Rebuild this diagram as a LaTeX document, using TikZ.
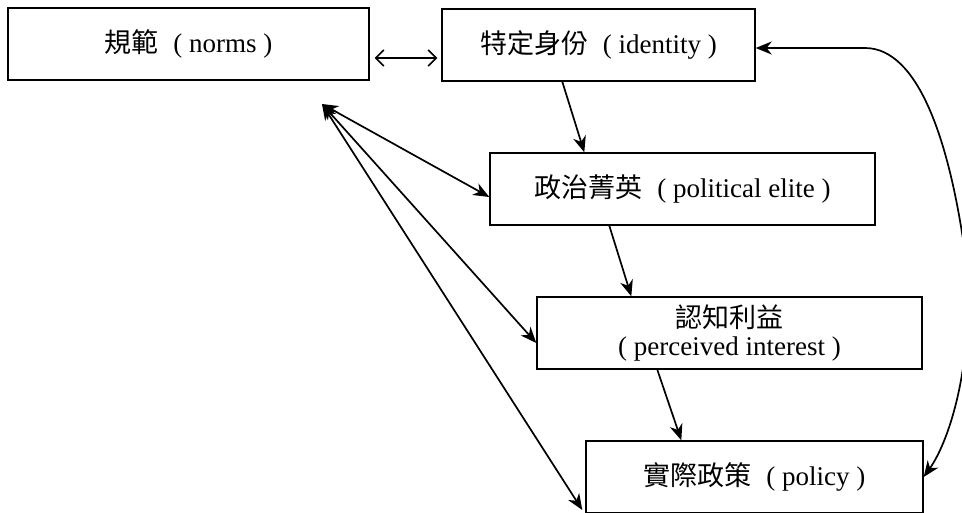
\documentclass[tikz,border=0pt]{standalone}
\usepackage{fontspec}
\setmainfont{Liberation Serif}
\newfontfamily\cjk{Noto Sans CJK TC}
\usetikzlibrary{arrows.meta,calc}
\newcommand{\lp}{\hspace{0.55em}(\ }
\newcommand{\rp}{\ )}
\begin{document}
\begin{tikzpicture}[x=1pt,y=-1pt,
  box/.style={draw,line width=1.4pt,minimum height=72pt,inner sep=0pt,
    font=\fontsize{27}{28}\selectfont},
  conn/.style={line width=1.7pt,{Stealth[length=16pt,width=13pt,inset=5pt]}-{Stealth[length=16pt,width=13pt,inset=5pt]}},
  oneway/.style={line width=1.7pt,-{Stealth[length=16pt,width=13pt,inset=5pt]}},
  openarrow/.style={line width=1.5pt,{Straight Barb[length=8pt,width=16pt]}-{Straight Barb[length=8pt,width=16pt]}}]
\clip (0,0) rectangle (962,512);
\useasboundingbox (0,0) rectangle (962,512);
\fill[white] (0,0) rectangle (962,512);
\node[box,minimum width=361pt] (norms) at (188.5,44) {{\cjk 規範}\lp norms\rp\hspace{12pt}};
\node[box,minimum width=313pt] (identity) at (598.5,45) {{\cjk 特定身份}\lp identity\rp\hspace{26pt}};
\node[box,minimum width=385pt] (elite) at (682.5,189) {{\cjk 政治菁英}\lp political elite\rp\hspace{16pt}};
\node[box,minimum width=385pt,align=center] (interest) at (729.5,333) {{\cjk 認知利益}\\(\ perceived interest\ )};
\node[box,minimum width=337pt] (policy) at (754.5,477) {{\cjk 實際政策}\lp policy\rp\hspace{14pt}};
\coordinate (src) at (322,104);
\draw[openarrow] ($(norms.east)+(5,14)$) -- ($(identity.west)+(-4,13)$);
\draw[oneway] ($(identity.south west)+(121,0)$) -- ($(elite.north west)+(95,0)$);
\draw[oneway] ($(elite.south west)+(120,0)$) -- ($(interest.north west)+(95,0)$);
\draw[oneway] ($(interest.south west)+(121,0)$) -- ($(policy.north west)+(96,0)$);
\draw[conn] (src) -- ($(elite.west)+(0,8)$);
\draw[conn] (src) -- ($(interest.west)+(0,10)$);
\draw[conn] (src) -- ($(policy.west)+(-3,33)$);
\draw[conn] ($(identity.east)+(0,3)$) -- (865,48) .. controls (918,48) and (950,140) .. (966,260)
  .. controls (975,360) and (950,440) .. (policy.east);
\end{tikzpicture}
\end{document}
